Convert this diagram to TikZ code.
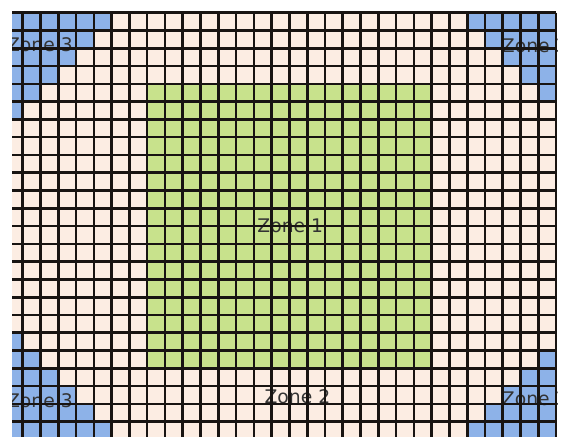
\documentclass[tikz,border=0pt]{standalone}
\usepackage{fontspec}
\setsansfont{DejaVu Sans}
\usepackage{tikz}
\definecolor{ZoneBeige}{RGB}{252,237,227}
\definecolor{ZoneGreen}{RGB}{200,226,140}
\definecolor{ZoneBlue}{RGB}{141,178,232}
\definecolor{GridInk}{RGB}{24,20,18}
\tikzstyle{gridline} = [draw=GridInk, line width=2.1pt]
\tikzstyle{zlabel}   = [font=\sffamily\fontsize{15}{17}\selectfont,
                        text=black!80, inner sep=0pt]

\begin{document}
\begin{tikzpicture}[x=0.5cm, y=-0.5cm]
  \useasboundingbox (-0.276,-0.714) rectangle (31.33,24.31);
  \begin{scope}
    \clip (0.4,-0.1) rectangle (31.1,23.85);
    \fill[ZoneBeige] (0,0) rectangle (31,24);
    % zone 1
    \fill[ZoneGreen] (8,4) rectangle (24,20);
    % zone 3, the four corners
    \foreach \r in {0,...,5}
      \fill[ZoneBlue] (0,\r) rectangle (6-\r,\r+1);
    \foreach \r in {0,...,4}
      \fill[ZoneBlue] (26+\r,\r) rectangle (31,\r+1);
    \foreach \r in {18,...,23}
      \fill[ZoneBlue] (0,\r) rectangle (\r-17,\r+1);
    \foreach \r in {19,...,23}
      \fill[ZoneBlue] (49-\r,\r) rectangle (31,\r+1);
    % labels
    \node[zlabel] (zone1)   at (16.05,12)   {Zone 1};
    \node[zlabel] (zone2)   at (16.45,21.6) {Zone 2};
    \node[zlabel] (zone3nw) at (1.97,1.82)  {Zone 3};
    \node[zlabel] (zone3ne) at (29.8,1.87)  {Zone 3};
    \node[zlabel] (zone3sw) at (1.97,21.8)  {Zone 3};
    \node[zlabel] (zone3se) at (29.8,21.7)  {Zone 3};
    % grid
    \foreach \c in {1,...,31}
      \draw[gridline] (\c,0) -- (\c,24);
    \foreach \r in {0,...,23}
      \draw[gridline] (0,\r) -- (31,\r);
  \end{scope}
\end{tikzpicture}
\end{document}
